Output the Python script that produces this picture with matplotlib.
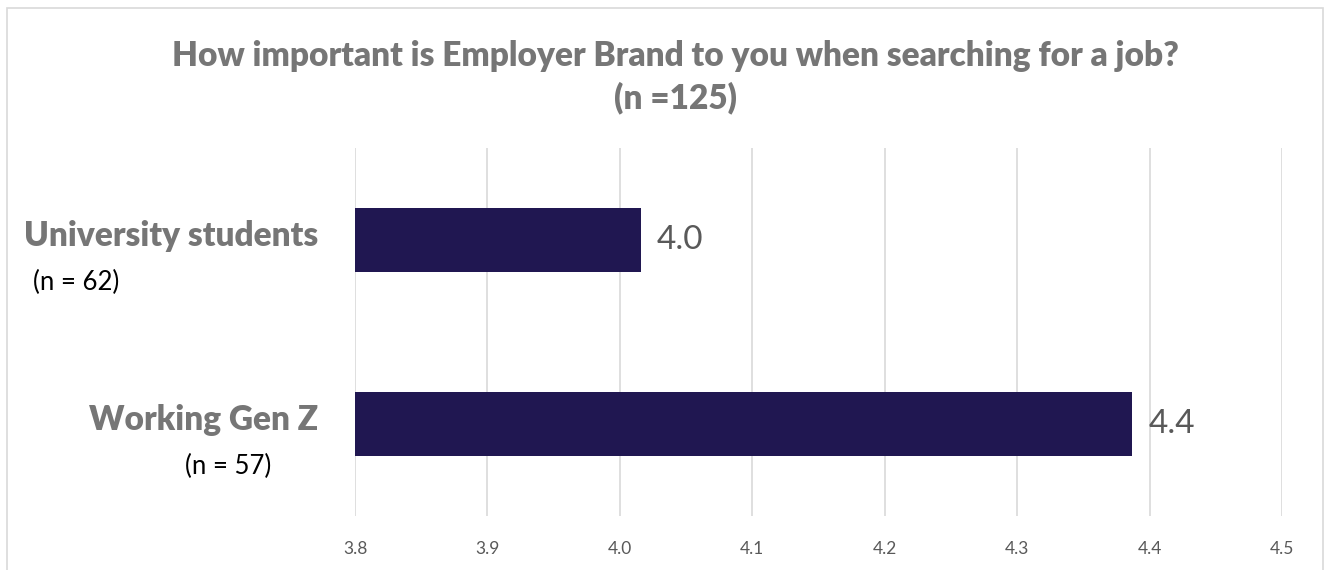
import matplotlib
matplotlib.use('Agg')
import matplotlib.pyplot as plt
from matplotlib.patches import Rectangle

plt.rcParams['font.family'] = ['Lato', 'DejaVu Sans']

groups = ['Working Gen Z', 'University students']
sample_sizes = [57, 62]
scores = [4.387, 4.016]
ticks = [3.8, 3.9, 4.0, 4.1, 4.2, 4.3, 4.4, 4.5]
title = 'How important is Employer Brand to you when searching for a job?\n(n =125)'

bar_color = '#201751'
label_grey = '#767676'
tick_grey = '#595959'

fig = plt.figure(figsize=(13.3, 5.7), dpi=100)
fig.patches.append(Rectangle((7 / 1330, -0.1), 1316 / 1330, 1.1 - 8 / 570,
                             transform=fig.transFigure, fill=False,
                             edgecolor='#d9d9d9', linewidth=1.2))

ax = fig.add_axes([355 / 1330, 54 / 570, 927 / 1330, 368 / 570])
ypos = list(range(len(groups)))
ax.barh(ypos, [s - ticks[0] for s in scores], left=ticks[0], height=0.35,
        color=bar_color, zorder=3)
ax.set_xlim(ticks[0], ticks[-1])
ax.set_ylim(-0.5, 1.5)
ax.set_xticks(ticks)
ax.set_xticklabels([f'{t:.1f}' for t in ticks], color=tick_grey, fontsize=12.5)
ax.tick_params(axis='x', length=0, pad=18)
ax.set_yticks([])
ax.grid(axis='x', color='#d9d9d9', linewidth=1.2, zorder=0)
for s in ax.spines.values():
    s.set_visible(False)

for y, s in zip(ypos, scores):
    ax.text(s + 0.012, y, f'{s:.1f}', va='center', ha='left',
            fontsize=24, color=tick_grey)

# group names to the left of the axes, with their sample sizes below
name_x = [-37 / 927, -37 / 927]
n_x = [(185 - 355) / 927, (33 - 355) / 927]
for y, g, n, nx, gx in zip(ypos, groups, sample_sizes, n_x, name_x):
    ax.text(gx, y + 0.02, g, transform=ax.get_yaxis_transform(),
            ha='right', va='center', fontsize=24, fontweight='heavy',
            color=label_grey)
    ax.text(nx, y - 0.23, f'(n = {n})', transform=ax.get_yaxis_transform(),
            ha='left', va='center', fontsize=18.5, color='black')

fig.text(675 / 1330, 1 - 77 / 570, title, ha='center', va='center',
         fontsize=24, fontweight='heavy', color=label_grey, linespacing=1.35)

fig.savefig('out.png', dpi=100, facecolor='white')
